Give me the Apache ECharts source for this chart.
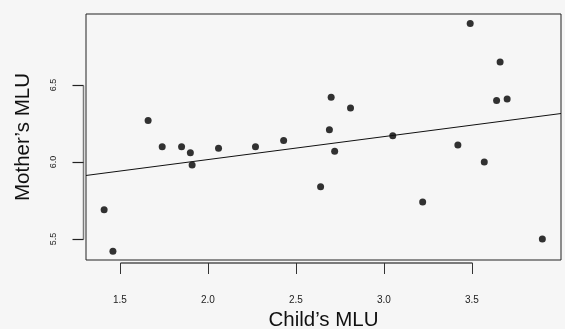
<!DOCTYPE html>
<html>
<head>
<meta charset="utf-8">
<script src="https://cdn.jsdelivr.net/npm/echarts@6/dist/echarts.min.js"></script>
<style>
  html, body { margin: 0; padding: 0; background: #f6f6f6; }
  #chart { width: 565px; height: 329px; }
</style>
</head>
<body>
<div id="chart"></div>
<script>
// child MLU / mother MLU pairs
const childMLU = [1.66, 1.74, 1.85, 1.90, 1.91, 2.06, 2.27, 2.43, 2.70, 2.81, 2.69, 2.72,
  3.49, 3.66, 3.64, 3.70, 3.05, 3.42, 3.57, 1.41, 1.46, 2.64, 3.22, 3.90];
const motherMLU = [6.27, 6.10, 6.10, 6.06, 5.98, 6.09, 6.10, 6.14, 6.42, 6.35, 6.21, 6.07,
  6.90, 6.65, 6.40, 6.41, 6.17, 6.11, 6.00, 5.69, 5.42, 5.84, 5.74, 5.50];
// fitted line (intercept, slope)
const fit = [5.718, 0.149];
const xTicks = [1.5, 2.0, 2.5, 3.0, 3.5];
const yTicks = [5.5, 6.0, 6.5];
const xRange = [1.307, 4.006];
const yRange = [5.364, 6.961];

const points = childMLU.map((c, i) => [c, motherMLU[i]]);
const fitLine = xRange.map(x => [x, fit[0] + fit[1] * x]);

let chart = echarts.init(document.getElementById('chart'));

const option = {
  backgroundColor: '#f6f6f6',
  animation: false,
  textStyle: { fontFamily: 'Liberation Sans, Arial, sans-serif' },
  grid: {
    left: 86, top: 14, right: 4, bottom: 69,
    outerBoundsMode: 'none',
    containLabel: false,
    show: true,
    borderColor: '#222',
    borderWidth: 1,
    backgroundColor: 'transparent'
  },
  xAxis: {
    type: 'value',
    min: xRange[0],
    max: xRange[1],
    axisLine: { show: false },
    splitLine: { show: false },
    axisTick: { show: false },
    axisLabel: {
      customValues: xTicks,
      margin: 35,
      fontSize: 10,
      color: '#222',
      formatter: v => v.toFixed(1)
    },
    name: 'Child’s MLU',
    nameLocation: 'middle',
    nameGap: 50,
    nameTextStyle: { fontSize: 20.5, color: '#111' }
  },
  yAxis: {
    type: 'value',
    min: yRange[0],
    max: yRange[1],
    axisLine: { show: false },
    splitLine: { show: false },
    axisTick: { show: false },
    axisLabel: {
      customValues: yTicks,
      margin: 28,
      fontSize: 9,
      rotate: 90,
      color: '#222',
      formatter: v => v.toFixed(1)
    },
    name: 'Mother’s MLU',
    nameLocation: 'middle',
    nameGap: 52,
    nameRotate: 90,
    nameTextStyle: { fontSize: 20.5, color: '#111' }
  },
  series: [
    {
      type: 'scatter',
      data: points,
      symbol: 'circle',
      symbolSize: 7,
      itemStyle: { color: '#000' }
    },
    {
      type: 'line',
      data: fitLine,
      symbol: 'none',
      lineStyle: { color: '#111', width: 1 }
    }
  ]
};

chart.setOption(option);

// R style axes: line only from first to last tick, set just outside the box
const crisp = v => Math.round(v) + 0.5;
const toPx = (x, y) => chart.convertToPixel({ gridIndex: 0 }, [x, y]);
const bottomY = 263;
const leftX = 83.5;
const tickLen = 11;
const xp = xTicks.map(v => crisp(toPx(v, yRange[0])[0]));
const yp = yTicks.map(v => crisp(toPx(xRange[0], v)[1]));
const graphics = [
  { type: 'line', z: 10, shape: { x1: xp[0], y1: bottomY, x2: xp[xp.length - 1], y2: bottomY }, style: { stroke: '#7a7a7a', lineWidth: 2 } },
  { type: 'line', z: 10, shape: { x1: leftX, y1: yp[0], x2: leftX, y2: yp[yp.length - 1] }, style: { stroke: '#7a7a7a', lineWidth: 1.5 } }
];
xp.forEach(x => graphics.push({
  type: 'line', z: 10, shape: { x1: x, y1: bottomY, x2: x, y2: bottomY + tickLen }, style: { stroke: '#333', lineWidth: 1 }
}));
yp.forEach(y => graphics.push({
  type: 'line', z: 10, shape: { x1: leftX, y1: y, x2: leftX - tickLen, y2: y }, style: { stroke: '#222', lineWidth: 1.2 }
}));
chart.setOption({ graphic: graphics });
</script>
</body>
</html>
